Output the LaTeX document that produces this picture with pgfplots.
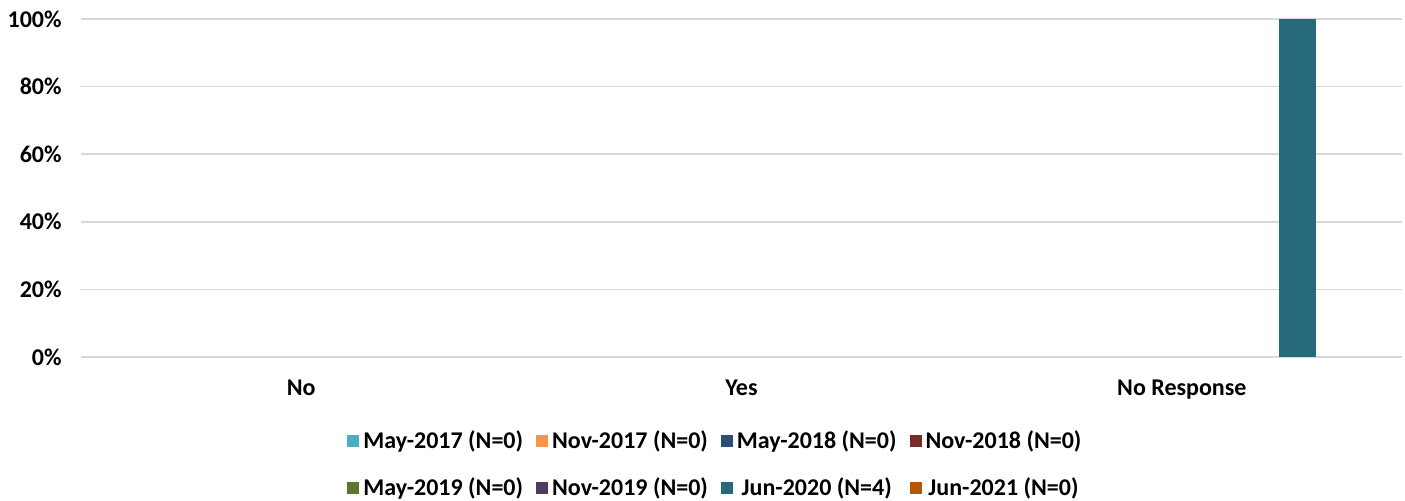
\documentclass[border=0pt]{standalone}
\usepackage{pgfplots}
\pgfplotsset{compat=1.18}
\usepackage{fontspec}
\setmainfont{Carlito}
\definecolor{cMayA}{HTML}{4BACC6}
\definecolor{cNovA}{HTML}{F79646}
\definecolor{cMayB}{HTML}{2C4D75}
\definecolor{cNovB}{HTML}{772C2A}
\definecolor{cMayC}{HTML}{5F7530}
\definecolor{cNovC}{HTML}{4D3B62}
\definecolor{cJunA}{HTML}{276A7C}
\definecolor{cJunB}{HTML}{B65708}
\definecolor{gridc}{HTML}{D9D9D9}
% zero-height bars: nothing drawn in the axis, coloured square in the legend
\pgfplotsset{zbar/.style={draw=none, fill=none,
  legend image code/.code={\fill[#1] (0pt,-3pt) rectangle (6pt,3pt);}}}
\begin{document}
\begin{tikzpicture}
\path[use as bounding box] (0,0) rectangle (702.5pt,250.5pt);
\begin{axis}[
    at={(40.5pt,72pt)}, anchor=south west,
    scale only axis, width=660.5pt, height=169pt,
    ybar=4.6pt, bar width=18.5pt,
    xmin=-0.5, xmax=2.5, ymin=0, ymax=100,
    xtick={0,1,2}, xticklabels={No,Yes,No Response},
    ytick={0,20,40,60,80,100},
    yticklabel={\pgfmathprintnumber{\tick}\%},
    /pgf/number format/assume math mode=true,
    ymajorgrids, grid style={gridc, line width=0.75pt},
    axis line style={draw=none},
    major tick length=0pt,
    tick label style={font=\fontsize{12}{14}\selectfont\bfseries},
    yticklabel style={inner sep=0pt, anchor=east, xshift=-9.5pt},
    xticklabel style={inner sep=0pt, anchor=north, yshift=-11.5pt},
    legend columns=4,
    legend style={draw=none, at={(0.481,-0.318)}, anchor=center,
      font=\fontsize{12}{14}\selectfont\bfseries,
      row sep=9pt,
      /tikz/every even column/.append style={column sep=4.5pt}},
]
\addplot[zbar=cMayA] coordinates {(0,0) (1,0) (2,0)};
\addlegendentry{May-2017 (N=0)}
\addplot[zbar=cNovA] coordinates {(0,0) (1,0) (2,0)};
\addlegendentry{Nov-2017 (N=0)}
\addplot[zbar=cMayB] coordinates {(0,0) (1,0) (2,0)};
\addlegendentry{May-2018 (N=0)}
\addplot[zbar=cNovB] coordinates {(0,0) (1,0) (2,0)};
\addlegendentry{Nov-2018 (N=0)}
\addplot[zbar=cMayC] coordinates {(0,0) (1,0) (2,0)};
\addlegendentry{May-2019 (N=0)}
\addplot[zbar=cNovC] coordinates {(0,0) (1,0) (2,0)};
\addlegendentry{Nov-2019 (N=0)}
\addplot[fill=cJunA, draw=none,
  y filter/.expression={y==0 ? nan : y}, unbounded coords=discard,
  legend image code/.code={\fill[cJunA] (0pt,-3pt) rectangle (6pt,3pt);}]
  coordinates {(0,0) (1,0) (2,100)};
\addlegendentry{Jun-2020 (N=4)}
\addplot[zbar=cJunB] coordinates {(0,0) (1,0) (2,0)};
\addlegendentry{Jun-2021 (N=0)}
\end{axis}
\end{tikzpicture}
\end{document}
